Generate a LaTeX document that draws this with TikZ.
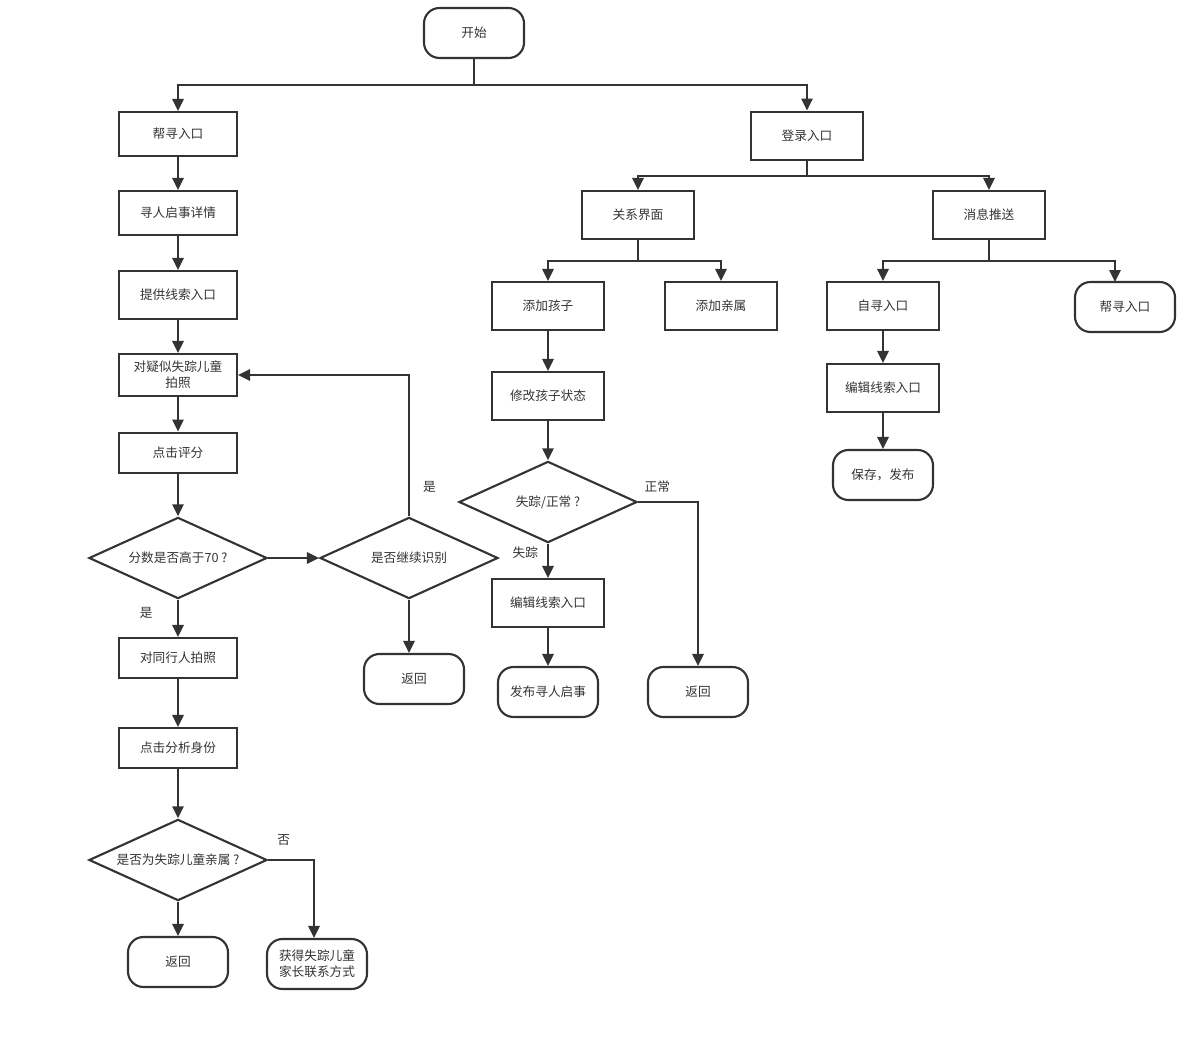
\documentclass[tikz,border=0pt]{standalone}
\usepackage{fontspec}
\newfontfamily\cjk{Noto Sans CJK SC}
\usepackage{tikz}
\usetikzlibrary{arrows.meta, shapes.geometric}
\definecolor{ink}{HTML}{333333}
\tikzstyle{block} = [draw=ink, text=ink, line width=1.5pt, font=\cjk\fontsize{9}{11.5}\selectfont, inner sep=2pt, align=center]
\tikzstyle{stepbox} = [block, rectangle, minimum width=2.8cm, minimum height=1.15cm]
\tikzstyle{terminal} = [block, rectangle, rounded corners=11pt, minimum width=2.5cm, minimum height=1.25cm]
\tikzstyle{decision} = [block, diamond, aspect=2.2, inner sep=0pt, minimum width=4.45cm, minimum height=2.03cm]
\tikzstyle{tag} = [text=ink, font=\cjk\fontsize{9}{11}\selectfont]
\tikzstyle{flow} = [-{Triangle[length=8.5pt, width=8pt]}, draw=ink, line width=1.5pt]
\tikzstyle{joint} = [draw=ink, line width=1.5pt]

\begin{document}
\begin{tikzpicture}[x=0.025cm, y=-0.025cm]
    \useasboundingbox (0,0) rectangle (1180,1037);

    \node (start) [terminal, minimum height=1.25cm] at (474,33) {开始};

    % Left branch: help search.
    \node (help) [stepbox, minimum width=2.95cm, minimum height=1.1cm] at (178,134) {帮寻入口};
    \node (notice) [stepbox, minimum width=2.95cm, minimum height=1.1cm] at (178,213) {寻人启事详情};
    \node (clue) [stepbox, minimum width=2.95cm, minimum height=1.2cm] at (178,295) {提供线索入口};
    \node (photo) [stepbox, minimum width=2.95cm, minimum height=1.05cm] at (178,375) {对疑似失踪儿童\\拍照};
    \node (score) [stepbox, minimum width=2.95cm, minimum height=1.02cm] at (178,453) {点击评分};
    \node (above) [decision] at (178,558) {分数是否高于70 ?};
    \node (again) [decision] at (409,558) {是否继续识别};
    \node (back a) [terminal] at (414,679) {返回};
    \node (mate) [stepbox, minimum width=2.95cm, minimum height=1cm] at (178,658) {对同行人拍照};
    \node (ident) [stepbox, minimum width=2.95cm, minimum height=1cm] at (178,748) {点击分析身份};
    \node (kin) [decision] at (178,860) {是否为失踪儿童亲属 ?};
    \node (back b) [terminal] at (178,962) {返回};
    \node (contact) [terminal] at (317,964) {获得失踪儿童\\家长联系方式};

    % Right branch: login.
    \node (login) [stepbox, minimum height=1.22cm] at (807,136) {登录入口};
    \node (family) [stepbox, minimum height=1.2cm] at (638,215) {关系界面};
    \node (push) [stepbox, minimum height=1.2cm] at (989,215) {消息推送};
    \node (child) [stepbox, minimum height=1.2cm] at (548,306) {添加孩子};
    \node (relative) [stepbox, minimum height=1.2cm] at (721,306) {添加亲属};
    \node (self) [stepbox, minimum height=1.2cm] at (883,306) {自寻入口};
    \node (help b) [terminal] at (1125,307) {帮寻入口};
    \node (status) [stepbox, minimum height=1.2cm] at (548,396) {修改孩子状态};
    \node (lost) [decision] at (548,502) {失踪/正常 ?};
    \node (edit a) [stepbox, minimum height=1.2cm] at (548,603) {编辑线索入口};
    \node (publish) [terminal] at (548,692) {发布寻人启事};
    \node (back c) [terminal] at (698,692) {返回};
    \node (edit b) [stepbox, minimum height=1.2cm] at (883,388) {编辑线索入口};
    \node (save) [terminal] at (883,475) {保存，发布};

    % Forks.
    \coordinate (fork top) at (474,85);
    \coordinate (fork login) at (807,176);
    \coordinate (fork family) at (638,261);
    \coordinate (fork push) at (989,261);
    \coordinate (help b top) at (1115,282);

    % Arrows.
    \draw [joint] (start) -- (fork top);
    \draw [flow] (fork top) -| (help);
    \draw [flow] (fork top) -| (login);
    \draw [flow] (help) -- (notice);
    \draw [flow] (notice) -- (clue);
    \draw [flow] (clue) -- (photo);
    \draw [flow] (photo) -- (score);
    \draw [flow] (score) -- (above);
    \draw [flow] (above) -- (again);
    \draw [flow] (again.north) |- node [tag, pos=0.105, right=6pt] {是} (photo.east);
    \draw [flow] (again.south) -- (again.south |- back a.north);
    \draw [flow] (above) -- node [tag, pos=0.35, left=14pt] {是} (mate);
    \draw [flow] (mate) -- (ident);
    \draw [flow] (ident) -- (kin);
    \draw [flow] (kin) -- (back b);
    \draw [flow] (kin.east) -| node [tag, pos=0.17, above=6pt] {否} ([xshift=-3*0.025cm]contact.north);

    \draw [joint] (login) -- (fork login);
    \draw [flow] (fork login) -| (family);
    \draw [flow] (fork login) -| (push);
    \draw [joint] (family) -- (fork family);
    \draw [flow] (fork family) -| (child);
    \draw [flow] (fork family) -| (relative);
    \draw [joint] (push) -- (fork push);
    \draw [flow] (fork push) -| (self);
    \draw [flow] (fork push) -| (help b top);
    \draw [flow] (child) -- (status);
    \draw [flow] (status) -- (lost);
    \draw [flow] (lost) -- node [tag, pos=0.25, left=3pt] {失踪} (edit a);
    \draw [flow] (edit a) -- (publish);
    \draw [flow] (lost.east) -| node [tag, pos=0.16, above=3pt] {正常} (back c);
    \draw [flow] (self) -- (edit b);
    \draw [flow] (edit b) -- (save);
\end{tikzpicture}
\end{document}
